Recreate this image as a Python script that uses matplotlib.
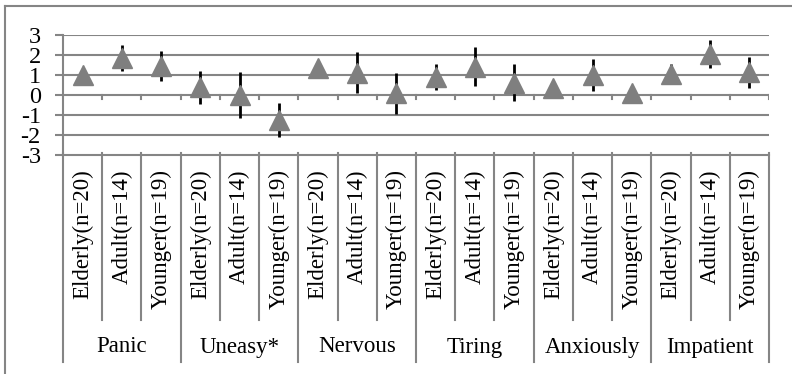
import matplotlib.pyplot as plt
from matplotlib.lines import Line2D

plt.rcParams['font.family'] = ['Liberation Serif', 'DejaVu Serif']

groups = ['Panic', 'Uneasy*', 'Nervous', 'Tiring', 'Anxiously', 'Impatient']
ages = ['Elderly(n=20)', 'Adult(n=14)', 'Younger(n=19)']

means = [1.02, 1.86, 1.47,
         0.38, 0.0, -1.27,
         1.33, 1.12, 0.09,
         0.88, 1.42, 0.62,
         0.33, 1.0, 0.08,
         1.06, 2.05, 1.14]
errs = [0.4, 0.64, 0.75,
        0.82, 1.16, 0.85,
        0.3, 1.04, 1.02,
        0.65, 0.96, 0.94,
        0.2, 0.78, 0.1,
        0.5, 0.7, 0.77]

grey = '#858585'
n = len(means)
xs = [i + 0.5 for i in range(n)]

fig = plt.figure(figsize=(7.92, 3.74), dpi=100)
ax = fig.add_axes([63 / 792, 1 - 155 / 374, 706 / 792, 120 / 374])

ax.errorbar(xs, means, yerr=errs, fmt='none', ecolor='black', elinewidth=2,
            capsize=0, zorder=3)
ax.plot(xs, means, linestyle='none', marker='^', markersize=14.5,
        color='#7f7f7f', zorder=4)

ax.set_xlim(0, n)
ax.set_ylim(-3, 3)
ax.set_yticks(range(-3, 4))
ax.set_yticklabels([str(v) for v in range(-3, 4)], fontsize=17.5)
ax.tick_params(axis='y', length=6, width=1.5, color=grey, pad=10)
ax.set_xticks([])
for v in range(-2, 4):
    ax.axhline(v, color=grey, linewidth=1.5, zorder=1)

for s in ['top', 'right']:
    ax.spines[s].set_visible(False)
ax.spines['left'].set_color(grey)
ax.spines['left'].set_linewidth(1.5)
ax.spines['bottom'].set_color(grey)
ax.spines['bottom'].set_linewidth(1.5)

tr = ax.get_xaxis_transform()
# small ticks on the zero line
for b in range(1, n + 1):
    ax.plot([b, b], [0, -0.2], color=grey, linewidth=1.5, zorder=1)

# category table under the plot
for b in range(0, n + 1):
    bottom = -1.725 if b % 3 == 0 else -1.375
    ax.add_line(Line2D([b, b], [0.02, bottom], transform=tr, color=grey,
                       linewidth=1.5, clip_on=False))
for i, x in enumerate(xs):
    ax.text(x, -0.12, ages[i % 3], transform=tr, rotation=90, ha='center',
            va='top', fontsize=16.5)
for g, name in enumerate(groups):
    ax.text(g * 3 + 1.5, -1.6, name, transform=tr, ha='center',
            va='center', fontsize=16.5)

# outer chart frame (top and left edges visible)
fig.add_artist(Line2D([5 / 792, 1], [1 - 6 / 374] * 2, color=grey,
                      linewidth=1.5))
fig.add_artist(Line2D([5 / 792] * 2, [0, 1 - 6 / 374], color=grey,
                      linewidth=1.5))

fig.savefig('out.png', dpi=100)
